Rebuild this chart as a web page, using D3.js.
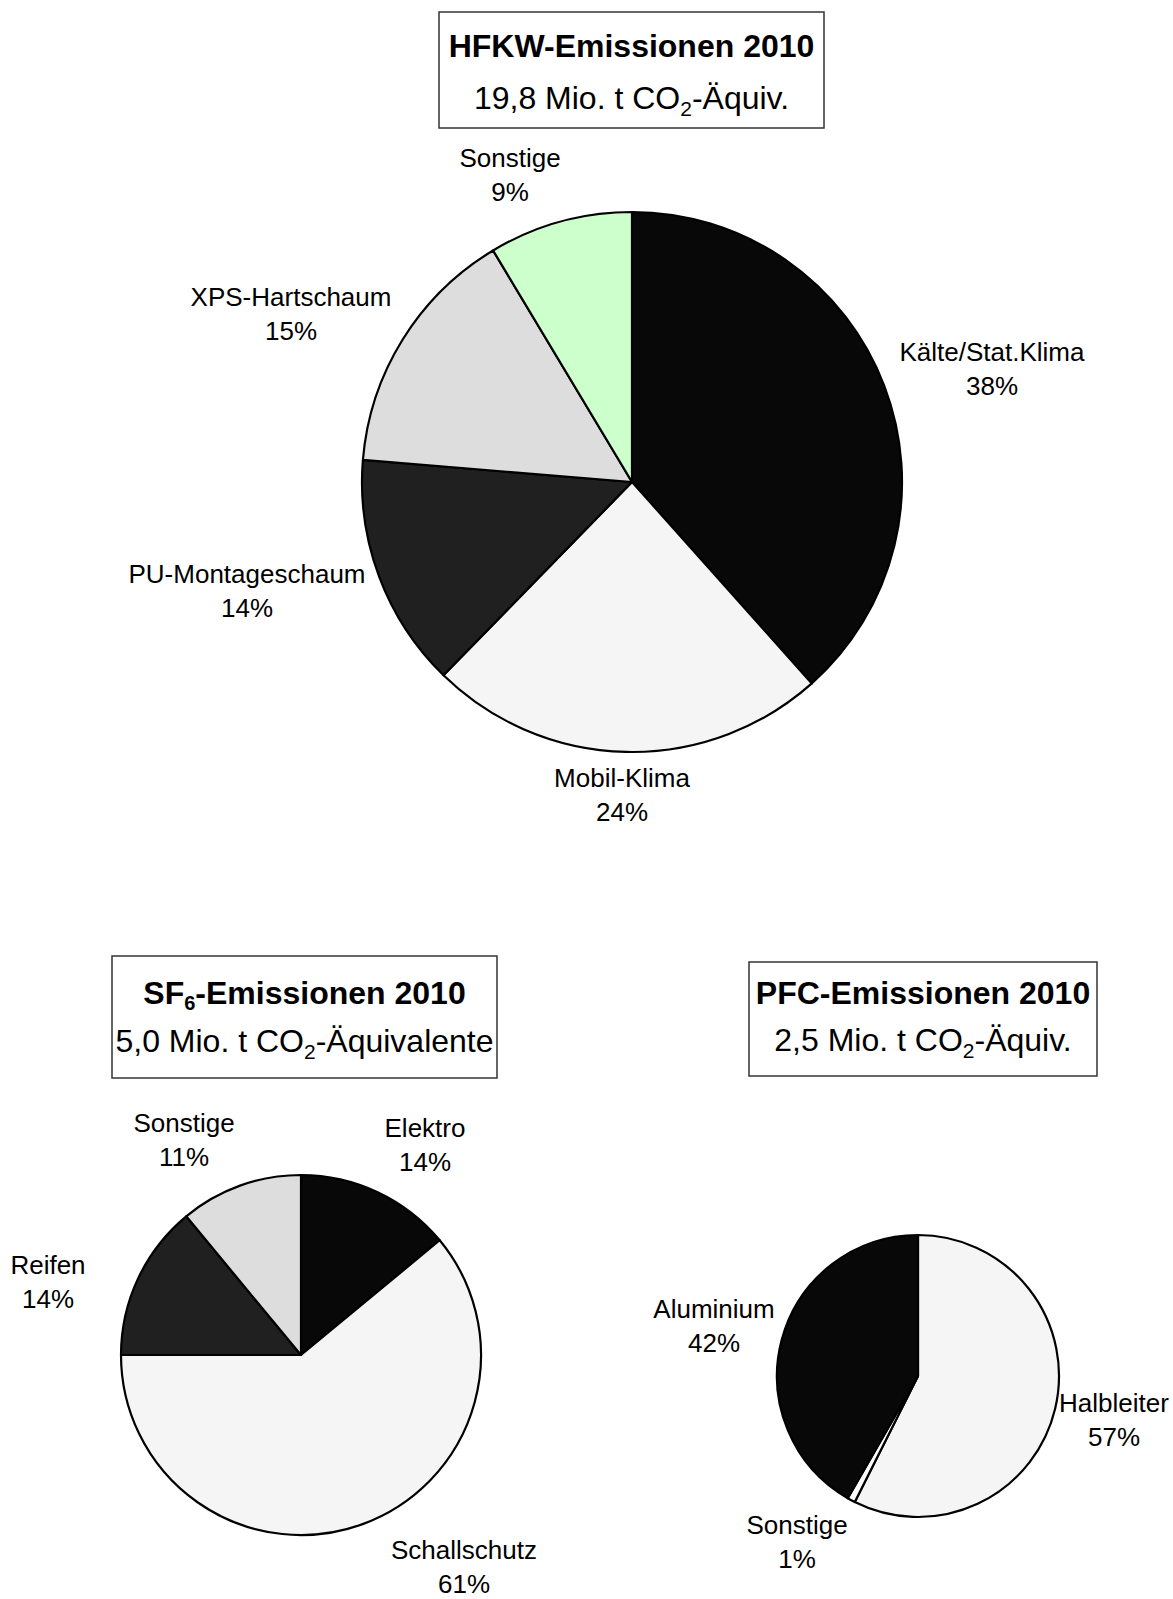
<!DOCTYPE html>
<html>
<head>
<meta charset="utf-8">
<title>F-Gase Emissionen 2010</title>
<script src="https://cdnjs.cloudflare.com/ajax/libs/d3/7.8.5/d3.min.js"></script>
<style>
  body { margin: 0; background: #fff; }
  svg { display: block; font-family: "Liberation Sans", Arial, sans-serif; }
</style>
</head>
<body>
<svg id="svg" width="1173" height="1599"></svg>
<script>
// HFKW
const hfkwCats = ['Kälte/Stat.Klima', 'Mobil-Klima', 'PU-Montageschaum', 'XPS-Hartschaum', 'Sonstige'];
const hfkwVals = [38.4, 23.9, 14.0, 15.1, 8.6];
const hfkwPct = ['38%', '24%', '14%', '15%', '9%'];

// SF6
const sf6Cats = ['Elektro', 'Schallschutz', 'Reifen', 'Sonstige'];
const sf6Vals = [14, 61, 14, 11];
const sf6Pct = ['14%', '61%', '14%', '11%'];

// PFC
const pfcCats = ['Halbleiter', 'Sonstige', 'Aluminium'];
const pfcVals = [57.4, 0.9, 41.7];
const pfcPct = ['57%', '1%', '42%'];

const svg = d3.select('#svg');

function titleBox(b, line1, line2) {
  svg.append('rect')
    .attr('x', b.x).attr('y', b.y)
    .attr('width', b.w).attr('height', b.h)
    .attr('fill', '#fff')
    .attr('stroke', '#333')
    .attr('stroke-width', 1.5);
  const cx = b.x + b.w / 2;
  const t1 = svg.append('text')
    .attr('x', cx).attr('y', b.y + b.b1)
    .attr('text-anchor', 'middle')
    .attr('font-size', 32).attr('font-weight', 'bold');
  line1.forEach(p => {
    const s = t1.append('tspan').text(p.t);
    if (p.sub) s.attr('font-size', 20).attr('dy', 6);
    else if (p.after) s.attr('dy', -6);
  });
  const t2 = svg.append('text')
    .attr('x', cx).attr('y', b.y + b.b2)
    .attr('text-anchor', 'middle')
    .attr('font-size', 32);
  line2.forEach(p => {
    const s = t2.append('tspan').text(p.t);
    if (p.sub) s.attr('font-size', 21).attr('dy', 7);
    else if (p.after) s.attr('dy', -7);
  });
}

function pieChart(cfg) {
  const pie = d3.pie().sort(null).value(d => d)(cfg.values);
  const arc = d3.arc().innerRadius(0).outerRadius(cfg.r);
  const g = svg.append('g').attr('transform', `translate(${cfg.cx},${cfg.cy})`);

  g.selectAll('path')
    .data(pie)
    .join('path')
    .attr('d', arc)
    .attr('fill', (d, i) => cfg.colors[i])
    .attr('stroke', '#000')
    .attr('stroke-width', 2.2)
    .attr('stroke-linejoin', 'round');

  const lab = g.selectAll('text.lab')
    .data(pie)
    .join('text')
    .attr('class', 'lab')
    .attr('text-anchor', 'middle')
    .attr('font-size', 26)
    .attr('fill', '#000');
  lab.append('tspan')
    .attr('x', (d, i) => cfg.labels[i][0])
    .attr('y', (d, i) => cfg.labels[i][1])
    .text((d, i) => cfg.cats[i]);
  lab.append('tspan')
    .attr('x', (d, i) => cfg.labels[i][0])
    .attr('y', (d, i) => cfg.labels[i][1] + 34)
    .text((d, i) => cfg.pct[i]);
}

// title boxes
titleBox({x: 439, y: 12, w: 385, h: 116, b1: 45, b2: 97},
  [{t: 'HFKW-Emissionen 2010'}],
  [{t: '19,8 Mio. t CO'}, {t: '2', sub: true}, {t: '-Äquiv.', after: true}]);
titleBox({x: 112, y: 956, w: 385, h: 122, b1: 48, b2: 96},
  [{t: 'SF'}, {t: '6', sub: true}, {t: '-Emissionen 2010', after: true}],
  [{t: '5,0 Mio. t CO'}, {t: '2', sub: true}, {t: '-Äquivalente', after: true}]);
titleBox({x: 749, y: 962, w: 348, h: 114, b1: 42, b2: 89},
  [{t: 'PFC-Emissionen 2010'}],
  [{t: '2,5 Mio. t CO'}, {t: '2', sub: true}, {t: '-Äquiv.', after: true}]);

// label anchors are offsets from each pie centre
pieChart({
  cx: 632, cy: 482, r: 270,
  values: hfkwVals, cats: hfkwCats, pct: hfkwPct,
  colors: ['#080808', '#f5f5f5', '#202020', '#dddddd', '#ccffcc'],
  labels: [[360, -121], [-10, 305], [-385, 101], [-341, -176], [-122, -315]]
});

pieChart({
  cx: 301, cy: 1355, r: 180,
  values: sf6Vals, cats: sf6Cats, pct: sf6Pct,
  colors: ['#080808', '#f5f5f5', '#202020', '#dddddd'],
  labels: [[124, -218], [163, 204], [-253, -81], [-117, -223]]
});

pieChart({
  cx: 918, cy: 1376, r: 141,
  values: pfcVals, cats: pfcCats, pct: pfcPct,
  colors: ['#f5f5f5', '#ffffff', '#080808'],
  labels: [[196, 36], [-121, 158], [-204, -58]]
});
</script>
</body>
</html>
